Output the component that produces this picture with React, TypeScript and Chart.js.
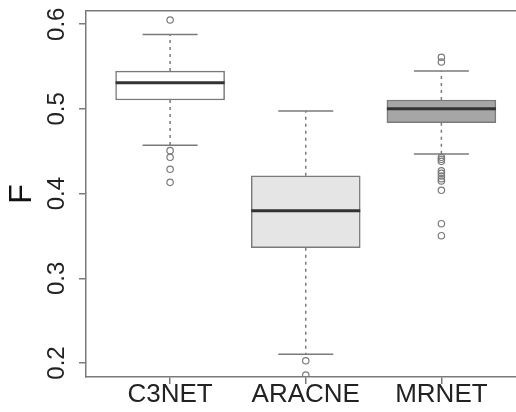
import React, { useEffect, useRef } from "react";
import { Chart, registerables } from "chart.js";

Chart.register(...registerables);

const categories = ["C3NET", "ARACNE", "MRNET"];
const positions = [1, 2, 3];
const whiskerLow = [0.457, 0.2103, 0.4468];
const q1 = [0.5105, 0.3361, 0.4837];
const median = [0.531, 0.3798, 0.5003];
const q3 = [0.5447, 0.4211, 0.5105];
const whiskerHigh = [0.588, 0.4975, 0.5447];
const outliersC3NET = [0.605, 0.4507, 0.4429, 0.4287, 0.4133];
const outliersARACNE = [0.2027, 0.1858];
const outliersMRNET = [0.561, 0.5554, 0.4429, 0.4405, 0.4381, 0.427, 0.424, 0.4208, 0.4176, 0.4149, 0.4039, 0.3645, 0.3503];
const yTicks = [0.2, 0.3, 0.4, 0.5, 0.6];
const boxColors = ["#ffffff", "#e5e5e5", "#a6a6a6"];

const LINE = "#7a7a7a";
const FONT = "'Liberation Sans', Arial, Helvetica, sans-serif";

export default function App() {
  const ref = useRef<HTMLCanvasElement | null>(null);

  useEffect(() => {
    const canvas = ref.current;
    if (!canvas) return;

    const outlierPts: { x: number; y: number }[] = [];
    [outliersC3NET, outliersARACNE, outliersMRNET].forEach((arr, i) =>
      arr.forEach((v) => outlierPts.push({ x: positions[i], y: v }))
    );
    const whiskerPts: any[] = [];
    positions.forEach((p, i) => {
      whiskerPts.push({ x: p, y: q3[i] }, { x: p, y: whiskerHigh[i] }, { x: p, y: null });
      whiskerPts.push({ x: p, y: q1[i] }, { x: p, y: whiskerLow[i] }, { x: p, y: null });
    });
    const capPts: { x: number; y: number }[] = [];
    positions.forEach((p, i) => {
      capPts.push({ x: p, y: whiskerHigh[i] }, { x: p, y: whiskerLow[i] });
    });

    const noPad = (s: any) => {
      s.paddingTop = 0;
      s.paddingBottom = 0;
      s.paddingLeft = 0;
      s.paddingRight = 0;
    };

    const chart = new Chart(canvas, {
      type: "bar",
      data: {
        datasets: [
          {
            type: "scatter",
            data: positions.map((p, i) => ({ x: p, y: median[i] })),
            pointStyle: "line",
            pointRadius: 54.5,
            pointBorderWidth: 3,
            borderColor: "#333333",
            backgroundColor: "#333333",
            order: 0,
          } as any,
          {
            type: "scatter",
            data: capPts,
            pointStyle: "line",
            pointRadius: 27.5,
            pointBorderWidth: 1.5,
            borderColor: LINE,
            backgroundColor: LINE,
            order: 1,
          } as any,
          {
            type: "line",
            data: whiskerPts,
            borderColor: LINE,
            borderWidth: 1.5,
            borderDash: [3, 4],
            pointRadius: 0,
            spanGaps: false,
            fill: false,
            order: 2,
          } as any,
          {
            type: "scatter",
            data: outlierPts,
            pointStyle: "circle",
            pointRadius: 3.2,
            pointBorderWidth: 1.2,
            borderColor: LINE,
            backgroundColor: "rgba(255,255,255,0)",
            order: 3,
          } as any,
          {
            type: "bar",
            data: positions.map((p, i) => ({ x: p, y: [q1[i], q3[i]] })),
            backgroundColor: boxColors,
            borderColor: LINE,
            borderWidth: 1.5,
            borderSkipped: false,
            barThickness: 109,
            order: 4,
          } as any,
        ],
      },
      options: {
        responsive: false,
        animation: false,
        layout: { padding: 0, autoPadding: false },
        plugins: { legend: { display: false }, tooltip: { enabled: false } },
        scales: {
          x: {
            type: "linear",
            position: "bottom",
            min: 0.38,
            max: 3.55,
            offset: false,
            afterBuildTicks: (s: any) => {
              s.ticks = positions.map((v) => ({ value: v }));
            },
            afterFit: (s: any) => {
              s.height = 35;
              noPad(s);
            },
            ticks: {
              autoSkip: false,
              maxRotation: 0,
              minRotation: 0,
              padding: -5,
              color: "#222222",
              font: { family: FONT, size: 26 },
              callback: (v: any) => {
                const i = positions.indexOf(Number(v));
                return i >= 0 ? categories[i] : "";
              },
            },
            grid: { display: true, offset: false, drawOnChartArea: false, drawTicks: true, tickLength: 7, color: LINE, lineWidth: 1.5 },
            border: { display: true, color: LINE, width: 1.5 },
          },
          x2: {
            type: "linear",
            position: "top",
            display: true,
            min: 0.38,
            max: 3.55,
            offset: false,
            afterFit: (s: any) => {
              s.height = 11;
              noPad(s);
            },
            ticks: { display: false },
            grid: { display: false, drawTicks: false, offset: false },
            border: { display: true, color: LINE, width: 1.5 },
          },
          y: {
            type: "linear",
            position: "left",
            min: 0.1835,
            max: 0.6156,
            afterBuildTicks: (s: any) => {
              s.ticks = yTicks.map((v) => ({ value: v }));
            },
            afterFit: (s: any) => {
              s.width = 86;
              noPad(s);
            },
            ticks: {
              minRotation: 90,
              maxRotation: 90,
              crossAlign: "center",
              padding: 5,
              color: "#222222",
              font: { family: FONT, size: 24 },
              callback: (v: any) => Number(v).toFixed(1),
            },
            title: {
              display: true,
              text: "F",
              color: "#111111",
              font: { family: FONT, size: 32 },
              padding: { top: 3, bottom: 0 },
            },
            grid: { display: true, drawOnChartArea: false, drawTicks: true, tickLength: 7, color: LINE, lineWidth: 1.5 },
            border: { display: true, color: LINE, width: 1.5 },
          },
        },
      } as any,
    });

    return () => chart.destroy();
  }, []);

  return (
    <div style={{ position: "fixed", left: 0, top: 0, width: 516, height: 412, background: "#ffffff" }}>
      <canvas ref={ref} width={516} height={412} style={{ display: "block" }} />
    </div>
  );
}
